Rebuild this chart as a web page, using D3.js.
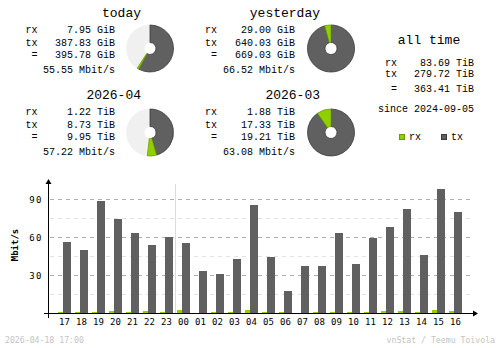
<!DOCTYPE html>
<html>
<head>
<meta charset="utf-8">
<script src="https://cdn.jsdelivr.net/npm/d3@7"></script>
<style>
  html, body { margin: 0; padding: 0; background: #fff; }
  svg { display: block; }
  text { font-family: "DejaVu Sans Mono", monospace; }
  text.sum { font-family: "Liberation Mono", "DejaVu Sans Mono", monospace; }
</style>
</head>
<body>
<svg id="chart" width="500" height="348"></svg>
<script>
// Hourly traffic (Mbit/s), last 24 hours
const hours = ["17","18","19","20","21","22","23","00","01","02","03","04",
               "05","06","07","08","09","10","11","12","13","14","15","16"];
const txRate = [56.3, 50.0, 88.1, 73.9, 63.4, 53.4, 59.7, 55.5, 33.4, 31.0, 42.9, 85.5,
                44.4, 17.6, 37.4, 37.4, 63.4, 38.9, 59.5, 68.1, 81.8, 46.1, 98.1, 80.0];
const rxRate = [0.9, 0.9, 0.9, 1.8, 0.9, 1.8, 0.9, 2.6, 0.0, 0.9, 0.9, 2.6,
                0.9, 0.9, 0.0, 0.9, 0.9, 0.9, 0.9, 1.8, 1.8, 0.9, 2.6, 1.8];
const majorTicks = [30, 60, 90];
const minorTicks = [15, 45, 75];

// Summary periods
const periods   = ["today", "yesterday", "2026-04", "2026-03"];
const rxVol     = [7.95, 29.00, 1.22, 1.88];
const txVol     = [387.83, 640.03, 8.73, 17.33];
const totalVol  = [395.78, 669.03, 9.95, 19.21];
const volUnit   = ["GiB", "GiB", "TiB", "TiB"];
const avgRate   = [55.55, 66.52, 57.22, 63.08];

// All-time totals
const allTimeRx = 83.69, allTimeTx = 279.72, allTimeTotal = 363.41;
const allTimeUnit = "TiB";
const sinceDate = "2024-09-05";

const generated = "2026-04-18 17:00";
const credit = "vnStat / Teemu Toivola";

const C_RX = "#92cf00", C_RX_D = "#6a9a00";
const C_TX = "#606060", C_TX_D = "#3a3a3a";
const C_REST = "#f0f0f0";

const svg = d3.select("#chart");

// ---- summary blocks ----
const blocks = [
  { title: { x: 141, y: 16.5 }, labelX: 25.5, valueX: 115, pie: [150, 48.5] },
  { title: { x: 320, y: 16.5 }, labelX: 205,  valueX: 295, pie: [331, 48.5] },
  { title: { x: 141, y: 98.5 }, labelX: 25.5, valueX: 115, pie: [150, 132.5] },
  { title: { x: 320, y: 98.5 }, labelX: 205,  valueX: 295, pie: [331, 132.5] }
];
const rowOff = [16.3, 29.2, 41.8, 56.6];

const arc = d3.arc().innerRadius(6).outerRadius(23.5);
const pie = d3.pie().sort(null).value(d => d.v);

periods.forEach((p, i) => {
  const b = blocks[i];
  const g = svg.append("g");
  g.append("text").attr("class", "sum").attr("x", b.title.x).attr("y", b.title.y)
    .attr("text-anchor", "end").attr("font-size", 13).attr("fill", "#000").text(p);

  const base = b.title.y;
  const rows = [
    ["rx", rxVol[i].toFixed(2) + " " + volUnit[i]],
    ["tx", txVol[i].toFixed(2) + " " + volUnit[i]],
    [" =", totalVol[i].toFixed(2) + " " + volUnit[i]],
    ["",   avgRate[i].toFixed(2) + " Mbit/s"]
  ];
  rows.forEach((r, k) => {
    if (r[0]) g.append("text").attr("class", "sum").attr("x", b.labelX).attr("y", base + rowOff[k])
      .attr("font-size", 10).style("white-space", "pre").text(r[0]);
    g.append("text").attr("class", "sum").attr("x", b.valueX).attr("y", base + rowOff[k])
      .attr("text-anchor", "end").attr("font-size", 10).text(r[1]);
  });

  // pie compares each period against the larger one of its pair
  const pairMax = Math.max(totalVol[i], totalVol[i ^ 1]);
  const slices = pie([
    { k: "tx", v: txVol[i], fill: C_TX, stroke: C_TX_D },
    { k: "rx", v: rxVol[i], fill: C_RX, stroke: C_RX_D },
    { k: "rest", v: pairMax - totalVol[i], fill: C_REST, stroke: C_REST }
  ]);
  const pg = g.append("g").attr("transform", `translate(${b.pie[0]},${b.pie[1]})`);
  // light remainder first, coloured slices on top
  pg.selectAll("path").data([slices[2], slices[0], slices[1]].filter(s => s.data.v > 0))
    .join("path").attr("d", arc)
    .attr("fill", s => s.data.fill).attr("stroke", s => s.data.stroke).attr("stroke-width", 0.8);
});

// ---- all time ----
const at = svg.append("g");
at.append("text").attr("class", "sum").attr("x", 429).attr("y", 44).attr("text-anchor", "middle")
  .attr("font-size", 13).text("all time");
[["rx", allTimeRx, 65.7], ["tx", allTimeTx, 76.7], [" =", allTimeTotal, 91.7]].forEach(r => {
  at.append("text").attr("class", "sum").attr("x", 385).attr("y", r[2]).attr("font-size", 10)
    .style("white-space", "pre").text(r[0]);
  at.append("text").attr("class", "sum").attr("x", 474).attr("y", r[2]).attr("text-anchor", "end")
    .attr("font-size", 10).text(r[1].toFixed(2) + " " + allTimeUnit);
});
at.append("text").attr("class", "sum").attr("x", 474).attr("y", 111.7).attr("text-anchor", "end")
  .attr("font-size", 10).text("since " + sinceDate);

// legend
[["rx", C_RX, C_RX_D, 399], ["tx", C_TX, C_TX_D, 441]].forEach(l => {
  at.append("rect").attr("x", l[3] + 0.5).attr("y", 134.5).attr("width", 5).attr("height", 5)
    .attr("fill", l[1]).attr("stroke", l[2]).attr("stroke-width", 1);
  at.append("text").attr("class", "sum").attr("x", l[3] + 10).attr("y", 140).attr("font-size", 10).text(l[0]);
});

// ---- hourly chart ----
const x = d3.scaleBand().domain(hours).range([58, 466]).paddingInner(0);
const y = d3.scaleLinear().domain([0, 90]).range([313, 199]);
const plot = svg.append("g").attr("shape-rendering", "crispEdges");

// grid
plot.selectAll("line.minor").data(minorTicks).join("line")
  .attr("x1", 50).attr("x2", 473).attr("y1", d => Math.round(y(d)) + 0.5).attr("y2", d => Math.round(y(d)) + 0.5)
  .attr("stroke", "#e2e2e2").attr("stroke-dasharray", "4,4");
plot.selectAll("line.major").data(majorTicks).join("line")
  .attr("x1", 50).attr("x2", 473).attr("y1", d => Math.round(y(d)) + 0.5).attr("y2", d => Math.round(y(d)) + 0.5)
  .attr("stroke", "#b0b0b0").attr("stroke-dasharray", "4,4");

// day separator before midnight
const sepX = x("00") - 1.5;
plot.append("line").attr("x1", sepX).attr("x2", sepX).attr("y1", 184).attr("y2", 313)
  .attr("stroke", "#dcdcdc");

// bars
plot.selectAll("rect.tx").data(hours).join("rect")
  .attr("x", h => x(h) + 5).attr("width", 8)
  .attr("y", (h, i) => Math.round(y(txRate[i])))
  .attr("height", (h, i) => 313 - Math.round(y(txRate[i])))
  .attr("fill", C_TX);
plot.selectAll("rect.rx").data(hours).join("rect")
  .attr("x", h => x(h)).attr("width", 5)
  .attr("y", (h, i) => Math.round(y(rxRate[i])))
  .attr("height", (h, i) => 313 - Math.round(y(rxRate[i])))
  .attr("fill", C_RX);

// axes
plot.append("line").attr("x1", 44).attr("x2", 474).attr("y1", 313.5).attr("y2", 313.5).attr("stroke", "#000");
plot.append("line").attr("x1", 48.5).attr("x2", 48.5).attr("y1", 183).attr("y2", 318).attr("stroke", "#000");
svg.append("path").attr("d", "M473,310.5 L478,313.5 L473,316.5 Z").attr("fill", "#000");
svg.append("path").attr("d", "M45.5,184 L48.5,179 L51.5,184 Z").attr("fill", "#000");

// tick labels
svg.selectAll("text.ylab").data(majorTicks).join("text")
  .attr("x", 43).attr("y", d => y(d) + 3.5).attr("text-anchor", "end")
  .attr("font-size", 9).attr("letter-spacing", 1.5).text(d => d);
svg.selectAll("text.xlab").data(hours).join("text")
  .attr("x", h => x(h) + 6.5).attr("y", 324.5).attr("text-anchor", "middle")
  .attr("font-size", 9).text(h => h);
svg.append("text").attr("transform", "translate(18,245) rotate(-90)")
  .attr("text-anchor", "middle").attr("font-size", 9).attr("font-weight", "bold").text("Mbit/s");

// footer
svg.append("text").attr("x", 5).attr("y", 342.7).attr("font-size", 8.2).attr("fill", "#c4c4c4").text(generated);
svg.append("text").attr("x", 495).attr("y", 342.7).attr("text-anchor", "end")
  .attr("font-size", 8.2).attr("fill", "#c4c4c4").text(credit);
</script>
</body>
</html>
